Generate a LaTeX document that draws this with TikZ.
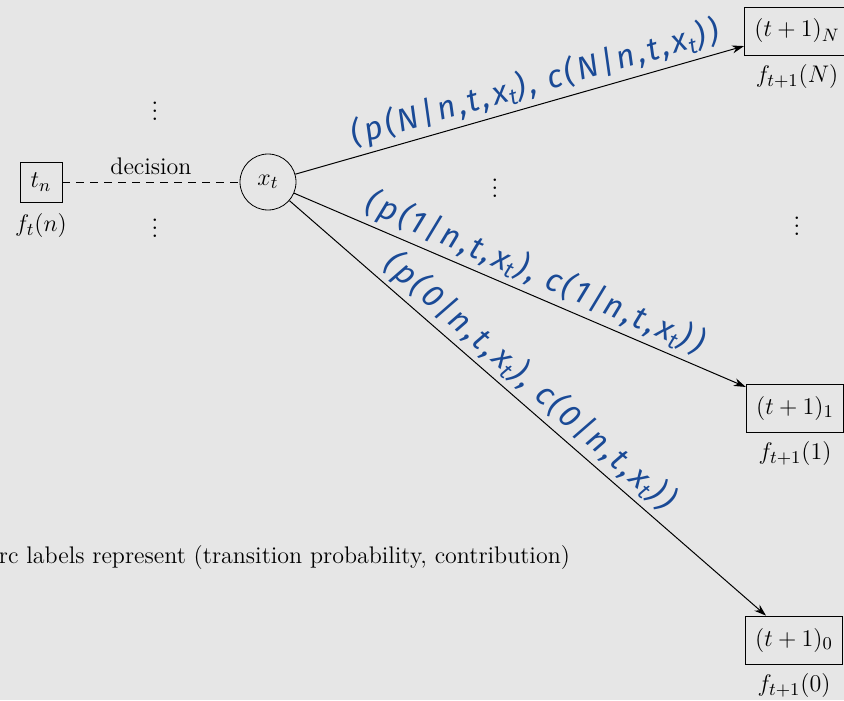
\documentclass[tikz,border=0pt]{standalone}
\usepackage{fontspec}
\usepackage{tikz}
\usetikzlibrary{positioning,arrows.meta}
\newfontfamily\handfont[LetterSpace=10]{Fira Sans}
\definecolor{bggray}{HTML}{E6E6E6}
\definecolor{inkblue}{HTML}{1A4A96}

\begin{document}
\begin{tikzpicture}[x=0.5pt, y=-0.5pt,
    font=\fontsize{13}{15}\selectfont,
    statebox/.style={draw, inner sep=5pt, minimum height=24pt},
    plaintext/.style={font=\fontsize{12}{14}\selectfont},
    arc/.style={-{Stealth[length=6pt,width=4pt]}, line width=0.5pt},
    handlbl/.style={text=inkblue, font=\handfont\itshape\fontsize{16}{16}\selectfont, sloped, above, inner sep=2pt}]
  \fill[bggray] (0,0) rectangle (844,700);
  \useasboundingbox (0,0) rectangle (844,700);

  % current stage
  \node[draw, minimum width=21pt, minimum height=20pt, inner sep=2pt] (tn) at (41,182) {$t_n$};
  \node[below=2pt of tn] (ftn) {$f_t(n)$};
  \node[circle, draw, minimum size=28pt, inner sep=1pt] (xt) at (268,182) {$x_t$};
  \node (dotsA) at (155,105) {$\vdots$};
  \node (dotsB) at (155,222) {$\vdots$};

  % next stage
  \node[statebox] (nN) at (797,31) {$(t+1)_N$};
  \node[below=1pt of nN] (fN) {$f_{t+1}(N)$};
  \node[statebox] (n1) at (795,408) {$(t+1)_1$};
  \node[below=1pt of n1] (f1) {$f_{t+1}(1)$};
  \node[statebox] (n0) at (794,640) {$(t+1)_0$};
  \node[below=1pt of n0] (f0) {$f_{t+1}(0)$};
  \node (dotsC) at (495,182) {$\vdots$};
  \node (dotsD) at (797,220) {$\vdots$};

  \draw[dashed, dash pattern=on 4pt off 3pt] (tn) -- node[plaintext, above] (dec) {decision} (xt);
  \draw[arc] (xt) -- node[handlbl, pos=0.547] {(p(N|n,t,x\textsubscript{t}), c(N|n,t,x\textsubscript{t}))} (nN);
  \draw[arc] (xt) -- node[handlbl, pos=0.515] {(p(1|n,t,x\textsubscript{t}), c(1|n,t,x\textsubscript{t}))} (n1);
  \draw[arc] (xt) -- node[handlbl, pos=0.475] {(p(0|n,t,x\textsubscript{t}), c(0|n,t,x\textsubscript{t}))} (n0);

  \node[plaintext, anchor=east] (note) at (577,558) {arc labels represent (transition probability, contribution)};
\end{tikzpicture}
\end{document}
